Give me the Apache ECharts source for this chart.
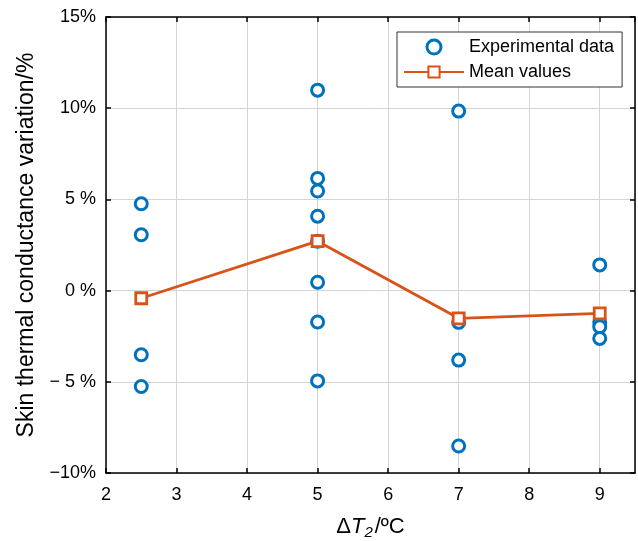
<!DOCTYPE html>
<html>
<head>
<meta charset="utf-8">
<script src="https://cdn.jsdelivr.net/npm/echarts@6/dist/echarts.min.js"></script>
<style>
  html, body { margin: 0; padding: 0; background: #fff; }
  #chart { width: 638px; height: 541px; }
</style>
</head>
<body>
<div id="chart"></div>
<script>
// 温差分组 (ΔT2, °C)
const xGroups = [2.5, 5, 7, 9]
// 各组实验数据 (%)
const expData = [
  [4.76, 3.06, -3.52, -5.26],
  [10.99, 6.15, 5.46, 4.08, 2.71, 0.46, -1.72, -4.95],
  [9.84, -1.74, -3.81, -8.52],
  [1.41, -1.74, -1.98, -2.62]
]
// 平均值 (%)
const meanValues = [-0.42, 2.71, -1.52, -1.25]
// y轴刻度标签
const yTickValues = [-10, -5, 0, 5, 10, 15]
const yTickLabels = ['\u221210%', '\u2212 5 %', '0 %', '5 %', '10%', '15%']

const FONT = '"Liberation Sans", Arial, sans-serif'
const BLUE = '#0072BD'
const ORANGE = '#D95319'

// 散点
const scatterData = []
xGroups.forEach((x, i) => {
  expData[i].forEach(v => scatterData.push([x, v]))
})
const meanData = xGroups.map((x, i) => [x, meanValues[i]])

const chart = echarts.init(document.getElementById('chart'))

const baseAxis = {
  axisLine: { show: true, onZero: false, lineStyle: { color: '#000', width: 1.5 } },
  axisTick: { show: true, inside: true, length: 5, lineStyle: { color: '#000', width: 1.5 } }
}

const option = {
  animation: false,
  backgroundColor: '#fff',
  grid: { left: 106, right: 3, top: 17, bottom: 68, outerBoundsMode: 'none' },
  legend: {
    orient: 'vertical',
    left: 397,
    top: 32,
    padding: [6, 8, 6, 6],
    itemGap: 7,
    itemWidth: 60,
    itemHeight: 14,
    borderColor: '#333',
    borderWidth: 1,
    borderRadius: 0,
    backgroundColor: '#fff',
    textStyle: { fontFamily: FONT, fontSize: 18, color: '#000' },
    data: [
      { name: 'Experimental data', itemStyle: { color: '#fff', borderColor: BLUE, borderWidth: 3 } },
      { name: 'Mean values' }
    ]
  },
  xAxis: [
    {
      ...baseAxis,
      type: 'value',
      min: 2,
      max: 9.5,
      interval: 1,
      name: '{d|\u0394}{t|T}{s|2}{d|/\u00baC}',
      nameLocation: 'middle',
      nameGap: 40,
      nameTextStyle: {
        rich: {
          d: { fontFamily: FONT, fontSize: 22, color: '#000' },
          t: { fontFamily: FONT, fontSize: 22, fontStyle: 'italic', color: '#000' },
          s: { fontFamily: FONT, fontSize: 15, fontStyle: 'italic', color: '#000', padding: [12, 2, 0, 0] }
        }
      },
      axisLabel: {
        fontFamily: FONT, fontSize: 18, color: '#000', margin: 13,
        showMaxLabel: false,
        formatter: v => String(v)
      },
      splitLine: { show: true, lineStyle: { color: '#d4d4d4', width: 1 } }
    },
    {
      ...baseAxis,
      type: 'value',
      position: 'top',
      min: 2,
      max: 9.5,
      interval: 1,
      axisLabel: { show: false },
      splitLine: { show: false }
    }
  ],
  yAxis: [
    {
      ...baseAxis,
      type: 'value',
      min: -10,
      max: 15,
      interval: 5,
      name: 'Skin thermal conductance variation/%',
      nameLocation: 'middle',
      nameGap: 68,
      nameTextStyle: { fontFamily: FONT, fontSize: 23, color: '#000' },
      axisLabel: {
        fontFamily: FONT, fontSize: 18, color: '#000', margin: 10,
        formatter: v => yTickLabels[yTickValues.indexOf(v)]
      },
      splitLine: { show: true, lineStyle: { color: '#d4d4d4', width: 1 } }
    },
    {
      ...baseAxis,
      type: 'value',
      position: 'right',
      min: -10,
      max: 15,
      interval: 5,
      axisLabel: { show: false },
      splitLine: { show: false }
    }
  ],
  series: [
    {
      name: 'Experimental data',
      type: 'scatter',
      data: scatterData,
      symbol: 'circle',
      symbolSize: 12,
      itemStyle: { color: '#fff', borderColor: BLUE, borderWidth: 3, opacity: 1 },
      z: 3
    },
    {
      name: 'Mean values',
      type: 'line',
      data: meanData,
      symbol: 'rect',
      symbolSize: 11,
      showSymbol: true,
      lineStyle: { color: ORANGE, width: 2.8 },
      itemStyle: { color: '#fff', borderColor: ORANGE, borderWidth: 2.8 },
      z: 4
    }
  ]
}

chart.setOption(option)
</script>
</body>
</html>
